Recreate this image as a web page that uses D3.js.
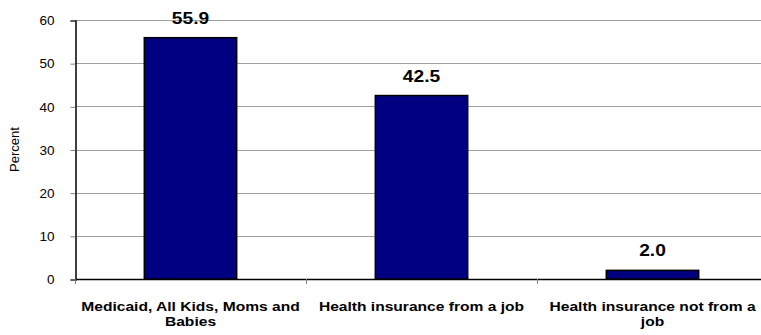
<!DOCTYPE html>
<html>
<head>
<meta charset="utf-8">
<style>
    body { margin: 0; background: #fff; }
    svg { font-family: "Liberation Sans", Arial, sans-serif; }
    .grid line { stroke: #a0a0a0; stroke-width: 1; }
    .bar { fill: #000080; stroke: #000; stroke-width: 1.5; }
    .value { font-weight: bold; font-size: 17px; text-anchor: middle; }
    .xlab { font-weight: bold; font-size: 13px; text-anchor: middle; }
</style>
</head>
<body>
<svg id="chart"></svg>
<script src="https://d3js.org/d3.v7.min.js"></script>
<script>
    // data
    var categories = [
        ['Medicaid, All Kids, Moms and', 'Babies'],
        ['Health insurance from a job'],
        ['Health insurance not from a', 'job']
    ];
    var values = [55.9, 42.5, 2.0];
    var yTicks = [0, 10, 20, 30, 40, 50, 60];

    var width = 761, height = 335;
    var plotLeft = 75, plotRight = 768, plotTop = 20, plotBottom = 279;

    var svg = d3.select('#chart')
        .attr('width', width)
        .attr('height', height);

    var x = d3.scaleBand()
        .domain(d3.range(categories.length))
        .range([plotLeft, plotRight]);

    var y = d3.scaleLinear()
        .domain([0, 60])
        .range([plotBottom, plotTop]);

    // horizontal gridlines
    svg.append('g')
        .attr('class', 'grid')
        .selectAll('line')
        .data(yTicks.filter(function (d) { return d > 0; }))
        .join('line')
        .attr('x1', plotLeft)
        .attr('x2', plotRight)
        .attr('y1', function (d) { return Math.round(y(d)) + 0.5; })
        .attr('y2', function (d) { return Math.round(y(d)) + 0.5; });

    // y axis
    var yAxis = svg.append('g')
        .attr('transform', 'translate(' + (plotLeft + 0.5) + ',0.5)')
        .call(d3.axisLeft(y).tickValues(yTicks).tickSize(5).tickPadding(16).tickFormat(d3.format('d')));
    yAxis.select('.domain').attr('stroke', '#000').attr('stroke-width', 1.5);
    yAxis.selectAll('.tick line').attr('stroke', '#808080');
    yAxis.selectAll('.tick text')
        .attr('font-size', 13.5)
        .attr('font-family', '"Liberation Sans", Arial, sans-serif')
        .attr('fill', '#000');

    // bars
    var barW = x.bandwidth() * 0.4;
    svg.append('g')
        .selectAll('rect')
        .data(values)
        .join('rect')
        .attr('class', 'bar')
        .attr('x', function (d, i) { return x(i) + (x.bandwidth() - barW) / 2; })
        .attr('width', barW)
        .attr('y', function (d) { return y(d); })
        .attr('height', function (d) { return y(0) - y(d); });

    // x axis baseline and category separators
    svg.append('line')
        .attr('x1', plotLeft).attr('x2', plotRight)
        .attr('y1', plotBottom + 0.5).attr('y2', plotBottom + 0.5)
        .attr('stroke', '#000').attr('stroke-width', 1.5);
    svg.append('g')
        .selectAll('line')
        .data(d3.range(categories.length + 1))
        .join('line')
        .attr('x1', function (d) { return plotLeft + d * x.step() + 0.5; })
        .attr('x2', function (d) { return plotLeft + d * x.step() + 0.5; })
        .attr('y1', plotBottom)
        .attr('y2', plotBottom + 5)
        .attr('stroke', '#808080');

    // value labels (the source text is a bit wide, so stretch it)
    svg.append('g')
        .selectAll('text')
        .data(values)
        .join('text')
        .attr('class', 'value')
        .attr('transform', function (d, i) {
            return 'translate(' + (x(i) + x.bandwidth() / 2) + ',' + (y(d) - 14) + ') scale(1.13,1)';
        })
        .text(function (d) { return d.toFixed(1); });

    // category labels
    svg.append('g')
        .selectAll('text')
        .data(categories)
        .join('text')
        .attr('class', 'xlab')
        .attr('transform', function (d, i) {
            return 'translate(' + (x(i) + x.bandwidth() / 2) + ',311) scale(1.2,1)';
        })
        .selectAll('tspan')
        .data(function (d) { return d; })
        .join('tspan')
        .attr('x', 0)
        .attr('y', function (d, i) { return i * 15; })
        .text(function (d) { return d; });

    // y axis title
    svg.append('text')
        .attr('transform', 'translate(19,' + ((plotTop + plotBottom) / 2) + ') rotate(-90)')
        .attr('text-anchor', 'middle')
        .attr('font-size', 13)
        .text('Percent');
</script>
</body>
</html>
